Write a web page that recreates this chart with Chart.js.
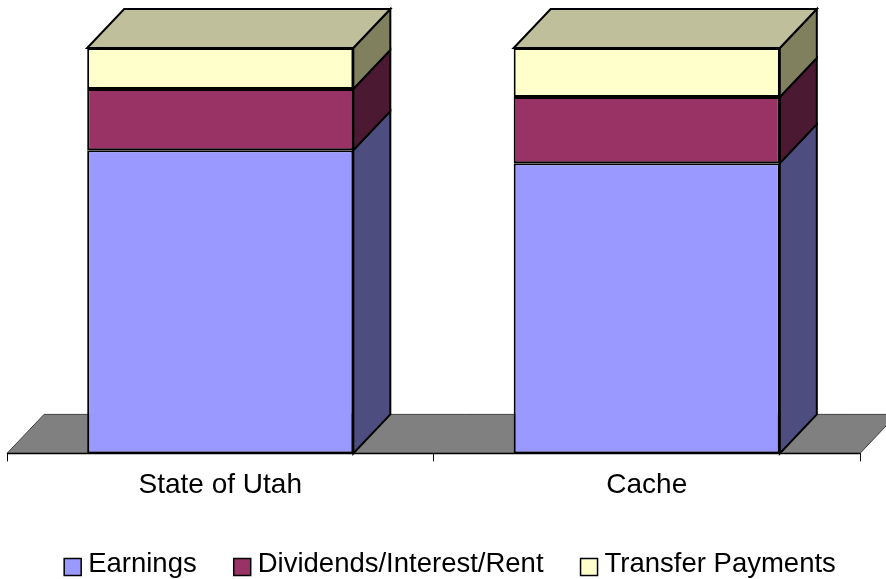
<!DOCTYPE html>
<html>
<head>
<meta charset="utf-8">
<script src="https://cdn.jsdelivr.net/npm/chart.js@4/dist/chart.umd.min.js"></script>
<style>
  html, body { margin: 0; padding: 0; background: #fff; }
  #wrap { width: 886px; height: 579px; }
</style>
</head>
<body>
<div id="wrap"><canvas id="myChart"></canvas></div>
<script>
const labels_area = ["State of Utah", "Cache"];
const dataEarnings = [74.8, 71.6];
const dataDividends = [15.1, 16.3];
const dataTransfer = [10.1, 12.1];

// front, side, top colours (Excel style 3D shading)
const faceColors = ['#9999FF', '#993366', '#FFFFCC'];
const sideColors = ['#4D4D7F', '#4C1933', '#80805F'];
const topColors = ['#BFBF99', '#BFBF99', '#BFBF9B'];

const depthX = 37;
const depthY = -39;

const fontName = '"Liberation Sans", Arial, sans-serif';

function poly(ctx, pts, fill, stroke, lw) {
  ctx.beginPath();
  ctx.moveTo(pts[0][0], pts[0][1]);
  for (let i = 1; i < pts.length; i++) ctx.lineTo(pts[i][0], pts[i][1]);
  ctx.closePath();
  ctx.fillStyle = fill;
  ctx.fill();
  if (stroke) {
    ctx.strokeStyle = stroke;
    ctx.lineWidth = lw;
    ctx.lineJoin = 'miter';
    ctx.stroke();
  }
}

const threeD = {
  id: 'threeD',
  beforeDatasetsDraw(chart) {
    const ctx = chart.ctx;
    const a = chart.chartArea;
    ctx.save();
    // floor
    poly(ctx, [[a.left, a.bottom], [a.right, a.bottom], [a.right + depthX, a.bottom + depthY], [a.left + depthX, a.bottom + depthY]], '#808080', '#404040', 1);
    ctx.beginPath();
    ctx.moveTo(a.left, a.bottom);
    ctx.lineTo(a.right, a.bottom);
    ctx.strokeStyle = '#000';
    ctx.lineWidth = 1.5;
    ctx.stroke();
    ctx.restore();
  },
  afterDatasetsDraw(chart) {
    const ctx = chart.ctx;
    ctx.save();
    const n = chart.data.datasets.length;
    for (let d = 0; d < n; d++) {
      const meta = chart.getDatasetMeta(d);
      meta.data.forEach((bar) => {
        const p = bar.getProps(['x', 'y', 'base', 'width'], true);
        const left = p.x - p.width / 2;
        const right = p.x + p.width / 2;
        const top = Math.min(p.y, p.base);
        const bottom = Math.max(p.y, p.base);
        poly(ctx, [[right, top], [right + depthX, top + depthY], [right + depthX, bottom + depthY], [right, bottom]], sideColors[d], '#000', 2);
        if (d === n - 1) {
          poly(ctx, [[left, top], [left + depthX, top + depthY], [right + depthX, top + depthY], [right, top]], topColors[d], '#000', 2);
        }
      });
    }
    ctx.restore();
  },
  afterDraw(chart) {
    // legend row
    const ctx = chart.ctx;
    ctx.save();
    ctx.font = '27.5px ' + fontName;
    ctx.textBaseline = 'middle';
    const box = 17, gapText = 7, gapItem = 37;
    const items = chart.data.datasets.map((ds, i) => ({ text: ds.label, color: faceColors[i], w: box + gapText + ctx.measureText(ds.label).width }));
    let total = items.reduce((s, it) => s + it.w, 0) + gapItem * (items.length - 1);
    let x = 450 - total / 2;
    const yText = 564;
    items.forEach((it) => {
      ctx.fillStyle = it.color;
      ctx.fillRect(x, 558.5, box, box);
      ctx.strokeStyle = '#000';
      ctx.lineWidth = 1.5;
      ctx.strokeRect(x, 558.5, box, box);
      ctx.fillStyle = '#000';
      ctx.fillText(it.text, x + box + gapText, yText);
      x += it.w + gapItem;
    });
    ctx.restore();
  }
};

const dataIncome = {
  labels: labels_area,
  datasets: [
    { label: 'Earnings', data: dataEarnings, backgroundColor: faceColors[0] },
    { label: 'Dividends/Interest/Rent', data: dataDividends, backgroundColor: faceColors[1] },
    { label: 'Transfer Payments', data: dataTransfer, backgroundColor: faceColors[2] }
  ]
};

const configIncome = {
  type: 'bar',
  data: dataIncome,
  options: {
    responsive: true,
    maintainAspectRatio: false,
    animation: false,
    datasets: {
      bar: {
        borderColor: '#000',
        borderWidth: 2,
        borderSkipped: false,
        categoryPercentage: 1,
        barPercentage: 0.624
      }
    },
    layout: {
      padding: { left: 7, right: 26, top: 48, bottom: 70 }
    },
    plugins: {
      legend: { display: false },
      tooltip: { enabled: false }
    },
    scales: {
      x: {
        stacked: true,
        offset: true,
        grid: {
          display: true,
          offset: true,
          drawOnChartArea: false,
          color: '#000',
          tickLength: 8,
          tickWidth: 1
        },
        border: { display: true, color: '#000', width: 1 },
        ticks: {
          color: '#000',
          padding: 7,
          font: { family: fontName, size: 28 }
        }
      },
      y: {
        stacked: true,
        display: false,
        min: 0,
        max: 100
      }
    }
  },
  plugins: [threeD]
};

const myChartIncome = new Chart(document.getElementById('myChart'), configIncome);
</script>
</body>
</html>
